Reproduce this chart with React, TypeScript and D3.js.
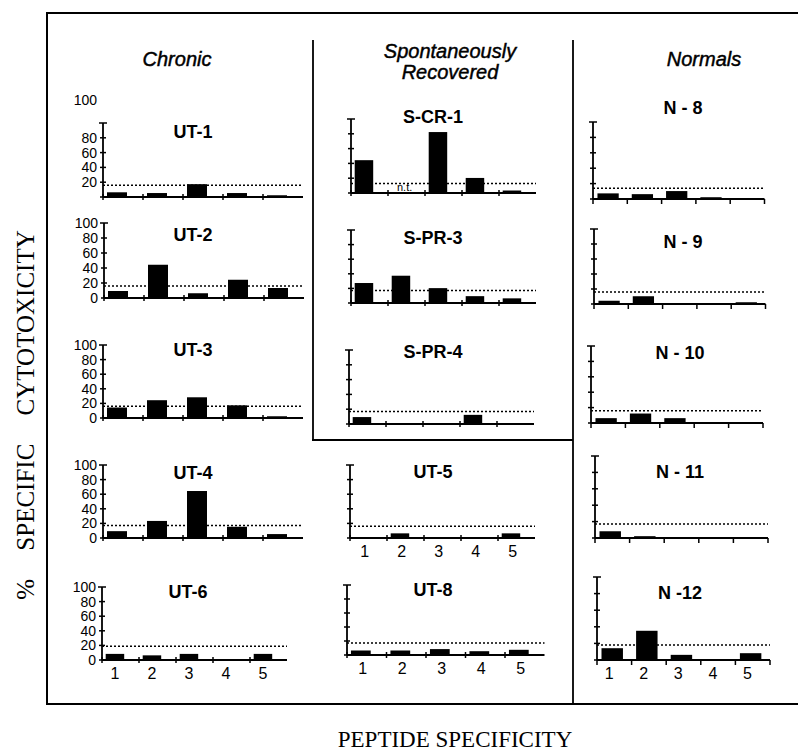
import React from 'react'
import * as d3 from 'd3'

// peptide numbers on the x axis
const peptides = ['1', '2', '3', '4', '5']
const yTicks = [0, 20, 40, 60, 80, 100]

const groups = ['Chronic', 'Spontaneously\nRecovered', 'Normals']

// % specific cytotoxicity per peptide (null = not tested)
const ut1 = [5, 4, 16, 4, 1]
const ut2 = [8, 43, 5, 23, 12]
const ut3 = [13, 23, 27, 16, 1]
const ut4 = [8, 22, 63, 14, 4]
const ut6 = [7, 5, 7, 0, 7]
const scr1 = [43, null, 81, 19, 2]
const spr3 = [26, 36, 19, 8, 5]
const spr4 = [8, 0, 0, 11, 0]
const ut5 = [0, 5, 0, 0, 5]
const ut8 = [5, 5, 7, 4, 6]
const n8 = [6, 5, 9, 1, 0]
const n9 = [3, 9, 0, 0, 1]
const n10 = [5, 11, 5, 0, 0]
const n11 = [7, 1, 0, 0, 0]
const n12 = [13, 34, 5, 0, 7]

const donors = ['UT-1', 'UT-2', 'UT-3', 'UT-4', 'UT-6', 'S-CR-1', 'S-PR-3', 'S-PR-4', 'UT-5', 'UT-8', 'N - 8', 'N - 9', 'N - 10', 'N - 11', 'N -12']
const donorValues = [ut1, ut2, ut3, ut4, ut6, scr1, spr3, spr4, ut5, ut8, n8, n9, n10, n11, n12]
// background cut-off (dotted line)
const cutoffs = [16, 16, 16, 17, 19, 13, 17, 17, 16, 17, 14, 16, 16, 17, 18]

// layout of each little panel: column, axis origin, band width, top/baseline, title position
const layout = [
  { col: 0, x0: 103, band: 40, top: 123, base: 197, tx: 193, ty: 138 },
  { col: 0, x0: 104, band: 40, top: 223, base: 298, tx: 193, ty: 241 },
  { col: 0, x0: 103, band: 40, top: 345, base: 418, tx: 193, ty: 356 },
  { col: 0, x0: 103, band: 40, top: 465, base: 538, tx: 193, ty: 479 },
  { col: 0, x0: 102, band: 37, top: 587, base: 660, tx: 188, ty: 598, xLabels: true },
  { col: 1, x0: 351, band: 37, top: 119, base: 193, tx: 433, ty: 123 },
  { col: 1, x0: 351, band: 37, top: 230, base: 303, tx: 433, ty: 244 },
  { col: 1, x0: 349, band: 37, top: 350, base: 424, tx: 433, ty: 358 },
  { col: 1, x0: 350, band: 37, top: 465, base: 538, tx: 433, ty: 478, xLabels: true },
  { col: 1, x0: 347, band: 39.5, top: 585, base: 655, tx: 433, ty: 596, xLabels: true },
  { col: 2, x0: 593, band: 34.3, top: 122, base: 199, tx: 683, ty: 114 },
  { col: 2, x0: 594, band: 34.3, top: 229, base: 304, tx: 683, ty: 248 },
  { col: 2, x0: 591, band: 34.4, top: 346, base: 423, tx: 680, ty: 359 },
  { col: 2, x0: 595, band: 34.6, top: 456, base: 538, tx: 680, ty: 478 },
  { col: 2, x0: 597, band: 34.6, top: 577, base: 660, tx: 680, ty: 599, xLabels: true }
]

const colStyle = [
  { off: 0.1, w: 0.5, yLabels: true, endTick: false, labelAt: 0.35 },
  { off: 0.1, w: 0.5, yLabels: false, endTick: false, labelAt: 0.4 },
  { off: 0.13, w: 0.62, yLabels: false, endTick: true, labelAt: 0.35 }
]

const sans = 'Liberation Sans, Arial, sans-serif'
const serif = 'Liberation Serif, Times New Roman, serif'

function Panel ({ i }: { i: number }) {
  const p = layout[i]
  const cs = colStyle[p.col]
  const values = donorValues[i]
  const x = d3.scaleBand().domain(peptides).range([p.x0, p.x0 + p.band * peptides.length])
  const y = d3.scaleLinear().domain([0, 100]).range([p.base, p.top])
  const bw = x.bandwidth()
  const [xa, xb] = x.range()
  const utOne = i === 0
  const tickPos = cs.endTick ? [...peptides.map(d => x(d)!), xb] : peptides.map(d => x(d)!)

  return (
    <g>
      <text x={p.tx} y={p.ty} textAnchor='middle' fontFamily={sans} fontWeight='bold' fontSize={18}>{donors[i]}</text>
      {values.map((v, k) => v == null
        ? <text key={k} x={x(peptides[k])! + bw * 0.45} y={p.base - 2} textAnchor='middle' fontFamily={sans} fontSize={11}>n.t.</text>
        : <rect key={k} x={x(peptides[k])! + bw * cs.off} y={y(v) - 1} width={bw * cs.w} height={y(0) - y(v) + 1} fill='#000' />
      )}
      <line x1={xa} x2={xb} y1={y(cutoffs[i])} y2={y(cutoffs[i])} stroke='#000' strokeWidth={1.5} strokeDasharray='2,2' />
      {/* y axis */}
      <line x1={xa} x2={xa} y1={y(0)} y2={y(100)} stroke='#000' strokeWidth={1.8} />
      {yTicks.map(t => (
        <line key={t} x1={xa - (t === 100 ? 4 : 3)} x2={xa + (t === 100 ? 4 : 3)} y1={y(t)} y2={y(t)} stroke='#000' strokeWidth={1.5} />
      ))}
      {cs.yLabels && yTicks.filter(t => !utOne || (t > 0 && t < 100)).map(t => (
        <text key={t} x={xa - 6} y={y(t)} dy='0.36em' textAnchor='end' fontFamily={sans} fontSize={14}>{t}</text>
      ))}
      {cs.yLabels && utOne && (
        <text x={xa - 6} y={100} dy='0.36em' textAnchor='end' fontFamily={sans} fontSize={14}>100</text>
      )}
      {/* x axis */}
      <line x1={xa} x2={xb} y1={y(0)} y2={y(0)} stroke='#000' strokeWidth={1.8} />
      {tickPos.map((tx, k) => (
        <line key={k} x1={tx} x2={tx} y1={y(0) - (cs.endTick ? 0 : 3)} y2={y(0) + (cs.endTick ? 5 : 3)} stroke='#000' strokeWidth={1.5} />
      ))}
      {p.xLabels && peptides.map(d => (
        <text key={d} x={x(d)! + bw * cs.labelAt} y={y(0) + 19} textAnchor='middle' fontFamily={sans} fontSize={16}>{d}</text>
      ))}
    </g>
  )
}

export default function App () {
  const headerX = [177, 450, 704]
  return (
    <svg width={798} height={751} style={{ display: 'block', position: 'absolute', left: 0, top: 0, background: '#fff' }}>
      {/* frame */}
      <line x1={47} x2={798} y1={13} y2={13} stroke='#000' strokeWidth={2} />
      <line x1={47} x2={47} y1={12} y2={705} stroke='#000' strokeWidth={2} />
      <line x1={46} x2={798} y1={704} y2={704} stroke='#000' strokeWidth={2} />
      <line x1={313} x2={313} y1={40} y2={441} stroke='#000' strokeWidth={1.8} />
      <line x1={312} x2={573} y1={440} y2={440} stroke='#000' strokeWidth={1.8} />
      <line x1={573} x2={573} y1={40} y2={704} stroke='#000' strokeWidth={1.8} />

      {groups.map((g, k) => g.split('\n').map((line, j) => (
        <text key={k + '-' + j} x={headerX[k]} y={(k === 1 ? 58 : 66) + j * 21} textAnchor='middle'
          fontFamily={sans} fontStyle='italic' fontSize={20} stroke='#000' strokeWidth={0.45}>{line}</text>
      )))}

      {layout.map((_, i) => <Panel key={i} i={i} />)}

      <text transform='translate(34,415) rotate(-90)' textAnchor='middle' fontFamily={serif} fontSize={25}
        style={{ wordSpacing: '22px' }}>% SPECIFIC CYTOTOXICITY</text>
      <text x={455} y={747} textAnchor='middle' fontFamily={serif} fontSize={23}>PEPTIDE SPECIFICITY</text>
    </svg>
  )
}
